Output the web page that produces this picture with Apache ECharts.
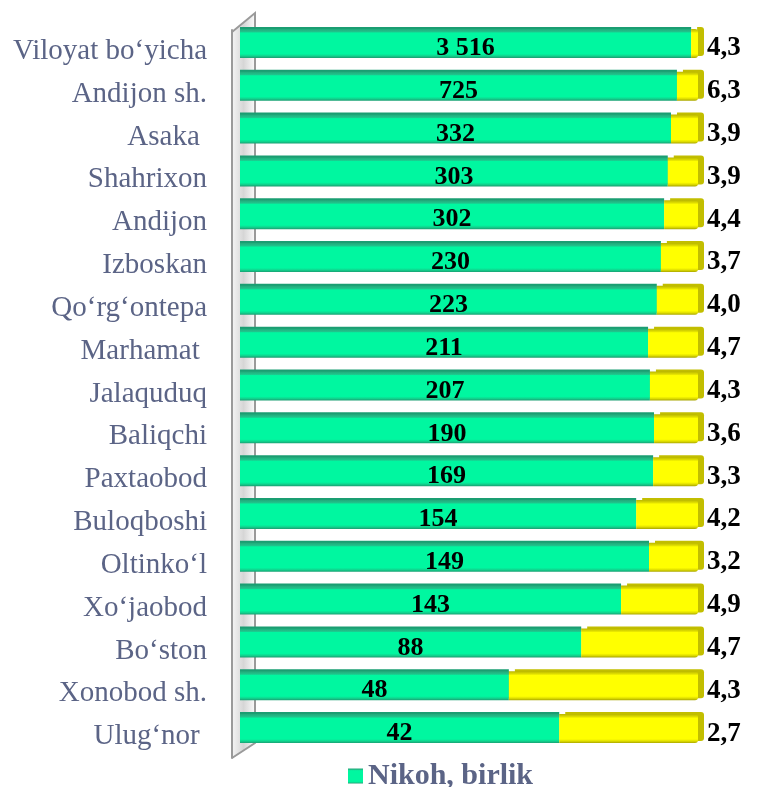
<!DOCTYPE html>
<html>
<head>
<meta charset="utf-8">
<script src="https://cdn.jsdelivr.net/npm/echarts@6/dist/echarts.min.js"></script>
<style>
  html, body { margin: 0; padding: 0; background: #fff; }
  #chart { width: 766px; height: 787px; }
</style>
</head>
<body>
<div id="chart"></div>
<script>
var categories = ['Viloyat bo‘yicha', 'Andijon sh.', 'Asaka ', 'Shahrixon', 'Andijon', 'Izboskan',
    'Qo‘rg‘ontepa', 'Marhamat ', 'Jalaquduq', 'Baliqchi', 'Paxtaobod', 'Buloqboshi',
    'Oltinko‘l', 'Xo‘jaobod', 'Bo‘ston', 'Xonobod sh.', 'Ulug‘nor '];
var marriages = [3516, 725, 332, 303, 302, 230, 223, 211, 207, 190, 169, 154, 149, 143, 88, 48, 42];
var divorceRate = ['4,3', '6,3', '3,9', '3,9', '4,4', '3,7', '4,0', '4,7', '4,3', '3,6', '3,3', '4,2', '3,2', '4,9', '4,7', '4,3', '2,7'];
// shares of the bar (percent)
var marriageShare = [98.5, 95.4, 94.1, 93.4, 92.6, 91.9, 91.0, 89.1, 89.5, 90.4, 90.2, 86.5, 89.3, 83.2, 74.5, 58.7, 69.7];
var divorceShare = [1.5, 4.6, 5.9, 6.6, 7.4, 8.1, 9.0, 10.9, 10.5, 9.6, 9.8, 13.5, 10.7, 16.8, 25.5, 41.3, 30.3];

var serif = '"Liberation Serif", "Times New Roman", serif';
var labelGrey = '#5b6486';

function thousands(v) {
    return String(v).replace(/\B(?=(\d{3})+(?!\d))/g, ' ');
}

var chart = echarts.init(document.getElementById('chart'));

var greenFill = new echarts.graphic.LinearGradient(0, 0, 0, 1, [
    {offset: 0, color: '#22a97a'},
    {offset: 0.1, color: '#20c48c'},
    {offset: 0.14, color: '#00f7a0'},
    {offset: 0.86, color: '#00f7a0'},
    {offset: 0.93, color: '#10d48e'},
    {offset: 1, color: '#1a9e72'}
]);
var yellowFill = new echarts.graphic.LinearGradient(0, 0, 0, 1, [
    {offset: 0, color: '#b9b600'},
    {offset: 0.1, color: '#e4e200'},
    {offset: 0.14, color: '#ffff00'},
    {offset: 0.86, color: '#ffff00'},
    {offset: 0.93, color: '#e0de00'},
    {offset: 1, color: '#a8a500'}
]);

chart.setOption({
    animation: false,
    grid: [
        {left: 240, right: 68, top: 22, bottom: 37},
        {left: 232, right: 68, top: 30, bottom: 29}
    ],
    xAxis: [
        {gridIndex: 0, type: 'value', min: 0, max: 100, show: false},
        {gridIndex: 1, type: 'value', min: 0, max: 100, show: false}
    ],
    yAxis: [
        {gridIndex: 0, type: 'category', inverse: true, data: categories, show: false},
        {
            gridIndex: 1, type: 'category', inverse: true, data: categories,
            axisLine: {lineStyle: {color: '#9a9a9a', width: 2}},
            axisTick: {length: 5, lineStyle: {color: '#9a9a9a', width: 2}},
            axisLabel: {margin: 25, fontFamily: serif, fontSize: 29, color: labelGrey, padding: [10, 0, 0, 0]}
        }
    ],
    graphic: [
        {
            type: 'polygon', z: -1, silent: true,
            shape: {points: [[232, 32], [255, 13], [255, 743], [232, 758]]},
            style: {fill: new echarts.graphic.LinearGradient(0, 0, 1, 0, [
                {offset: 0, color: '#f4f4f4'},
                {offset: 0.5, color: '#d6d6d6'},
                {offset: 1, color: '#fafafa'}
            ])}
        },
        {type: 'polyline', silent: true, shape: {points: [[232, 32], [255, 13], [255, 743], [232, 758]]},
            style: {stroke: '#9a9a9a', lineWidth: 2, fill: null}}
    ],
    legend: {
        left: 343, top: 756,
        data: ['Nikoh, birlik'],
        icon: 'rect', itemWidth: 15, itemHeight: 15, itemGap: 6,
        textStyle: {fontFamily: serif, fontSize: 30, fontWeight: 'bold', color: labelGrey}
    },
    series: [
        {
            name: 'Nikoh, birlik', type: 'bar', stack: 'all', barWidth: 29,
            data: marriageShare,
            itemStyle: {color: greenFill, shadowColor: '#1a9e72', shadowOffsetY: -2, shadowBlur: 0},
            label: {
                show: true, position: 'inside', color: '#000', offset: [0, 5],
                fontFamily: serif, fontSize: 26, fontWeight: 'bold',
                formatter: function (p) { return thousands(marriages[p.dataIndex]); }
            }
        },
        {
            name: 'Ajralish', type: 'bar', stack: 'all', barWidth: 29,
            data: divorceShare,
            itemStyle: {color: yellowFill, borderRadius: [0, 3, 3, 0],
                shadowColor: '#c2be00', shadowOffsetX: 6, shadowOffsetY: -2, shadowBlur: 0},
            label: {
                show: true, position: 'right', distance: 9, color: '#000', offset: [0, 5],
                fontFamily: serif, fontSize: 27, fontWeight: 'bold',
                formatter: function (p) { return divorceRate[p.dataIndex]; }
            }
        }
    ]
});
</script>
</body>
</html>
